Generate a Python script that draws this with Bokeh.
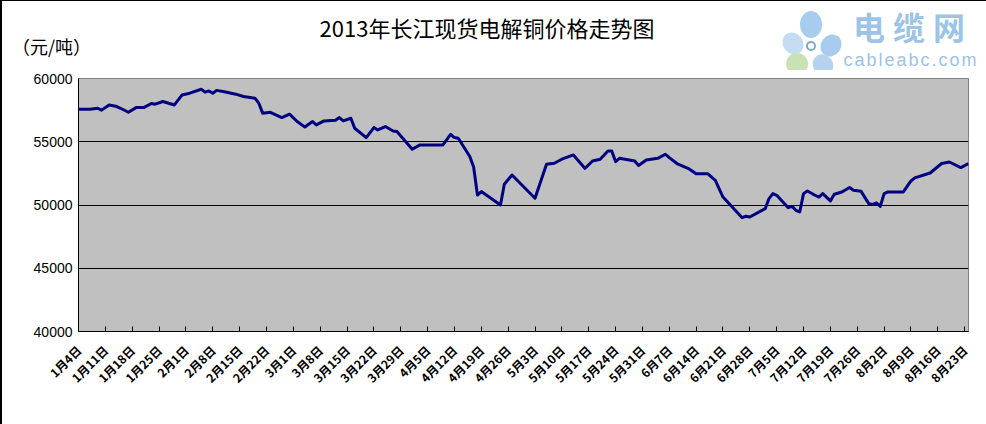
import math
from bokeh.plotting import figure
from bokeh.layouts import column
from bokeh.models import Range1d, FixedTicker, Div
from bokeh.embed import file_html
from bokeh.resources import INLINE

# ---- data (day_index = days since 2013-01-04) ----
day_index = [0, 3, 5, 6, 8, 10, 12, 13, 15, 17, 19, 20, 22, 25, 27, 29, 32, 33, 34, 35,
             36, 38, 41, 43, 46, 47, 48, 50, 53, 55, 57, 59, 61, 62, 64, 67, 68, 69, 71, 72,
             75, 77, 78, 80, 82, 83, 87, 89, 95, 97, 98, 99, 102, 103, 104, 105, 110, 111, 113, 119,
             122, 124, 126, 129, 132, 134, 136, 138, 139, 140, 141, 145, 146, 148, 151, 153, 154, 156, 159, 161,
             164, 166, 168, 173, 174, 175, 179, 180, 181, 182, 184, 185, 186, 187, 188, 189, 190, 192, 193, 194,
             196, 197, 199, 201, 202, 204, 206, 207, 208, 209, 210, 211, 215, 217, 218, 222, 225, 227, 230, 232]
prices = [57570, 57570, 57650, 57500, 57910, 57780, 57490, 57330, 57700, 57700, 58020, 57970, 58180, 57910, 58700, 58840, 59150, 58920, 59020, 58830,
          59060, 58950, 58760, 58580, 58440, 58050, 57260, 57330, 56910, 57180, 56600, 56170, 56600, 56330, 56650, 56700, 56910, 56650, 56860, 56070,
          55330, 56120, 55930, 56200, 55850, 55810, 54410, 54750, 54750, 55590, 55330, 55280, 53830, 53000, 50790, 51060, 50000, 51640, 52370, 50530,
          53220, 53300, 53620, 53960, 52900, 53480, 53620, 54270, 54270, 53430, 53690, 53480, 53120, 53560, 53690, 54010, 53750, 53280, 52880, 52480,
          52480, 51950, 50630, 49000, 49110, 49050, 49710, 50510, 50900, 50770, 50110, 49790, 49890, 49580, 49450, 50900, 51110, 50770, 50630, 50900,
          50320, 50850, 51030, 51380, 51160, 51080, 50110, 50050, 50160, 49890, 50900, 51030, 51030, 51900, 52140, 52530, 53280, 53400, 52960, 53280]

tick_days = list(range(0, 232, 7))
tick_labels = ["1月4日", "1月11日", "1月18日", "1月25日", "2月1日", "2月8日", "2月15日", "2月22日",
               "3月1日", "3月8日", "3月15日", "3月22日", "3月29日", "4月5日", "4月12日", "4月19日",
               "4月26日", "5月3日", "5月10日", "5月17日", "5月24日", "5月31日", "6月7日", "6月14日",
               "6月21日", "6月28日", "7月5日", "7月12日", "7月19日", "7月26日", "8月2日", "8月9日",
               "8月16日", "8月23日"]
y_ticks = [40000, 45000, 50000, 55000, 60000]
grid_ticks = [45000, 50000, 55000]

title_text = "2013年长江现货电解铜价格走势图"
unit_text = "（元/吨）"
logo_text = "电缆网"
logo_url = "cableabc.com"

BL = 2      # left page border width
BT = 1      # top page border width
W = 986 - BL
HEAD_H = 70 - BT

# ---------- header (title, unit, logo) as HTML ----------
def span(x, y, text, size, color="black", font="Noto Sans CJK SC", anchor="center", weight="normal", spacing=0):
    tx = "-50%" if anchor == "center" else "0"
    return (f'<span style="position:absolute;left:{x - BL}px;top:{y - BT}px;'
            f'transform:translate({tx},-50%);white-space:nowrap;line-height:1;letter-spacing:{spacing}px;'
            f'font-family:\'{font}\';font-size:{size}px;color:{color};font-weight:{weight};">{text}</span>')

def dot(cx, cy, w, h, color, rot=0, border=""):
    return (f'<div style="position:absolute;left:{cx - BL - w / 2}px;top:{cy - BT - h / 2}px;'
            f'width:{w}px;height:{h}px;border-radius:50%;background:{color};'
            f'transform:rotate({rot}deg);box-sizing:border-box;{border}"></div>')

parts = [
    dot(811, 24, 22, 27, "#a8cced"),
    dot(793, 43, 20, 23, "#c4dcf2", rot=-35),
    dot(831, 45, 20, 23, "#a8cced", rot=35),
    dot(823, 65, 20, 22, "#b6d3ee", rot=-30),
    dot(797, 64, 22, 22, "#c9e1b3"),
    dot(811, 46, 10, 10, "white", border="border:2px solid #7fa6cf;"),
    span(487, 27, title_text, 22),
    span(12, 46, unit_text, 18, anchor="left"),
    span(913, 25.5, logo_text, 32, color="#9dc3e6", weight="bold", spacing=8),
    span(911, 59.5, logo_url, 18, color="#9dc3e6", font="Liberation Sans", spacing=2),
]
header_html = (f'<div style="position:relative;width:{W}px;height:{HEAD_H}px;overflow:hidden;background:white;">'
               + "".join(parts) + "</div>")
header = Div(text=header_html, width=W, height=HEAD_H, margin=0)

# ---------- main chart ----------
X0, X1 = 0, 232
Y0, Y1 = 40000, 60000
p = figure(width=W, height=424 - 70, output_backend="svg", toolbar_location=None,
           x_range=Range1d(X0, X1), y_range=Range1d(Y0, Y1),
           min_border_left=78 - BL, min_border_right=18, min_border_top=8, min_border_bottom=93)
p.background_fill_color = "#c0c0c0"
p.border_fill_color = "white"
p.outline_line_color = "#808080"
p.outline_line_width = 1

p.xgrid.visible = False
p.ygrid.ticker = FixedTicker(ticks=grid_ticks)
p.ygrid.grid_line_color = "black"
p.ygrid.grid_line_width = 1

p.yaxis.ticker = FixedTicker(ticks=y_ticks)
p.yaxis.axis_line_color = "black"
p.yaxis.major_tick_out = 0
p.yaxis.major_tick_in = 0
p.yaxis.minor_tick_line_color = None
p.yaxis.major_label_text_font = "Liberation Sans"
p.yaxis.major_label_text_font_size = "14px"
p.yaxis.major_label_text_color = "black"
p.yaxis.major_label_standoff = 6

p.xaxis.ticker = FixedTicker(ticks=tick_days)
p.xaxis.major_label_overrides = {d: s for d, s in zip(tick_days, tick_labels)}
p.xaxis.axis_line_color = "black"
p.xaxis.major_tick_in = 5
p.xaxis.major_tick_out = 0
p.xaxis.major_tick_line_color = "black"
p.xaxis.minor_tick_line_color = None
p.xaxis.major_label_orientation = math.pi / 4
p.xaxis.major_label_text_font = "Noto Sans CJK SC"
p.xaxis.major_label_text_font_size = "12px"
p.xaxis.major_label_text_font_style = "bold"
p.xaxis.major_label_text_color = "black"
p.xaxis.major_label_standoff = 16

p.line(day_index, prices, line_color="#000080", line_width=3, line_join="round")

layout = column(header, p, spacing=0,
                styles={"border-left": f"{BL}px solid black", "border-top": f"{BT}px solid black"})
open("out.html", "w").write(file_html(layout, INLINE))
